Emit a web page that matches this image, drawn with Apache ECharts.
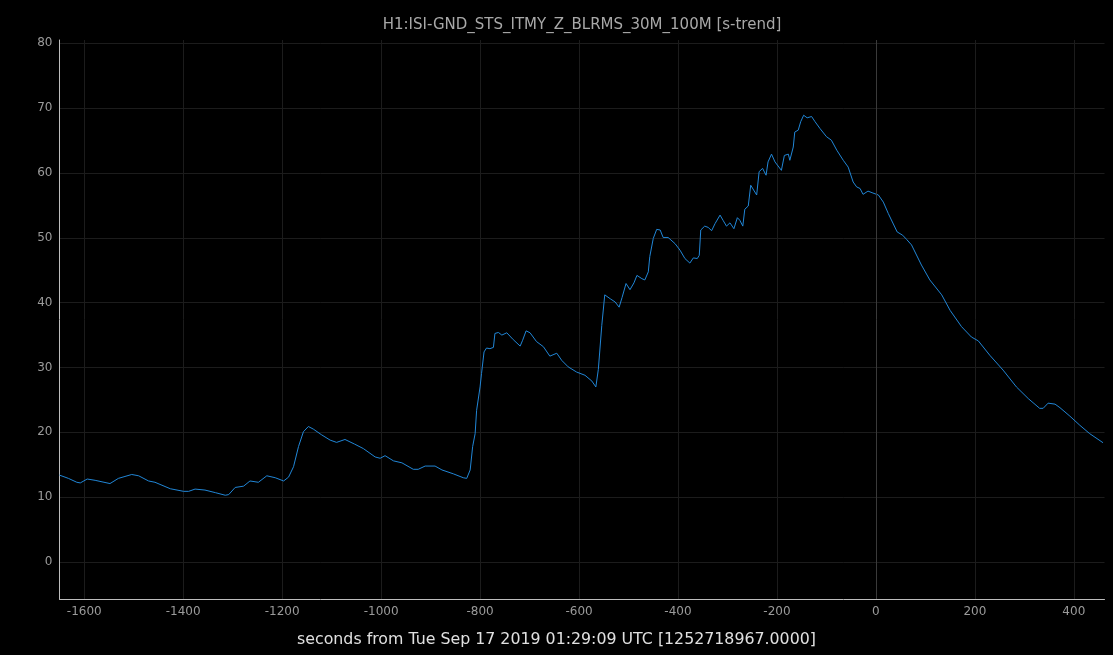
<!DOCTYPE html>
<html>
<head>
<meta charset="utf-8">
<script src="https://cdn.jsdelivr.net/npm/echarts@6/dist/echarts.min.js"></script>
<style>
html,body{margin:0;padding:0;background:#000;}
#chart{width:1113px;height:655px;}
</style>
</head>
<body>
<div id="chart"></div>
<script>
const titleText = "H1:ISI-GND_STS_ITMY_Z_BLRMS_30M_100M [s-trend]";
const xAxisLabel = "seconds from Tue Sep 17 2019 01:29:09 UTC [1252718967.0000]";

const times = [
  -1650,-1632,-1615,-1608,-1594,-1578,-1548,-1531,-1504,-1490,-1470,-1457,-1426,-1399,-1389,-1376,-1356,-1335,-1315,-1308,
  -1295,-1278,-1265,-1248,-1231,-1214,-1197,-1187,-1177,-1167,-1157,-1147,-1137,-1120,-1103,-1090,-1073,-1054,-1036,-1012,
  -1002,-992,-975,-958,-935,-925,-911,-891,-877,-854,-834,-827,-820,-815,-810,-807,-800,-797,-792,-787,
  -780,-773,-770,-763,-756,-746,-733,-719,-714,-707,-699,-686,-672,-659,-645,-635,-622,-605,-588,-574,
  -566,-561,-554,-548,-537,-527,-519,-513,-505,-497,-489,-483,-473,-467,-460,-457,-450,-443,-436,-430,
  -420,-406,-396,-386,-376,-369,-361,-357,-354,-346,-339,-332,-325,-315,-309,-302,-295,-287,-280,-275,
  -269,-265,-258,-253,-241,-236,-229,-222,-218,-211,-204,-191,-185,-177,-174,-167,-164,-157,-152,-146,
  -139,-130,-123,-113,-100,-90,-79,-66,-56,-46,-39,-32,-26,-16,-6,5,15,25,43,54,
  62,72,92,109,133,150,173,193,207,230,257,284,308,331,338,348,362,372,392,412,
  432,459
];
const values = [
  13.4,12.9,12.3,12.2,12.8,12.6,12.1,12.9,13.5,13.3,12.5,12.3,11.3,10.9,10.9,11.25,11.1,10.7,10.3,10.4,
  11.5,11.7,12.5,12.3,13.3,13.0,12.5,13.1,14.7,17.8,20.1,20.9,20.5,19.6,18.8,18.45,18.9,18.2,17.5,16.2,
  16.0,16.4,15.6,15.3,14.3,14.3,14.8,14.8,14.2,13.6,13.0,12.9,14.2,17.8,19.8,23.4,27.0,29.1,32.4,33.0,
  32.9,33.1,35.25,35.4,35.0,35.35,34.3,33.3,34.2,35.65,35.35,34.0,33.2,31.75,32.2,31.1,30.1,29.3,28.8,27.9,
  27.0,29.7,36.5,41.2,40.6,40.1,39.3,40.8,42.95,42.0,43.05,44.2,43.7,43.5,44.75,47.1,49.9,51.3,51.2,50.05,
  50.05,49.1,48.1,46.8,46.1,46.9,46.8,47.3,51.2,51.8,51.6,51.1,52.2,53.5,52.7,51.8,52.3,51.4,53.1,52.7,
  51.8,54.4,54.9,58.1,56.6,60.2,60.7,59.65,61.7,62.9,61.7,60.4,62.7,62.9,61.95,64.0,66.3,66.6,67.9,68.9,
  68.5,68.7,67.9,66.85,65.6,65.05,63.5,61.95,60.9,58.6,57.85,57.6,56.7,57.2,56.9,56.6,55.5,53.75,50.9,50.4,
  49.75,48.9,45.8,43.5,41.2,38.8,36.3,34.7,34.1,31.9,29.6,27.0,25.2,23.7,23.7,24.5,24.35,23.8,22.5,21.1,
  19.8,18.4
];

const seriesData = times.map((t, i) => [t, values[i]]);

const chart = echarts.init(document.getElementById('chart'), null, {renderer: 'canvas'});
chart.setOption({
  backgroundColor: '#000',
  animation: false,
  title: [{
    text: titleText,
    left: 577,
    textAlign: 'center',
    top: 13,
    textStyle: {color: '#a8a8a8', fontFamily: 'DejaVu Sans', fontSize: 15, fontWeight: 'normal'}
  }, {
    text: xAxisLabel,
    left: 551.5,
    textAlign: 'center',
    top: 627,
    textStyle: {color: '#e0e0e0', fontFamily: 'DejaVu Sans', fontSize: 15.8, fontWeight: 'normal'}
  }],
  grid: {left: 59.5, right: 8.5, top: 40, bottom: 56, containLabel: false},
  xAxis: {
    type: 'value',
    min: -1650, max: 462,
    splitNumber: 10,
    axisLine: {show: true, onZero: false, lineStyle: {color: '#bdbdbd', width: 1}},
    axisTick: {show: false},
    axisLabel: {color: '#9a9a9a', fontFamily: 'DejaVu Sans', fontSize: 12, margin: 7, showMinLabel: false, showMaxLabel: false,
      formatter: v => String(v)},
    splitLine: {show: true, showMinLine: false, showMaxLine: false, lineStyle: {color: '#1c1c1c', width: 1}}
  },
  yAxis: {
    type: 'value',
    min: -5.7, max: 80.5,
    splitNumber: 9,
    axisLine: {show: true, onZero: false, lineStyle: {color: '#bdbdbd', width: 1}},
    axisTick: {show: false},
    axisLabel: {color: '#9a9a9a', fontFamily: 'DejaVu Sans', fontSize: 12, margin: 7, showMinLabel: false, showMaxLabel: false,
      formatter: v => String(v)},
    splitLine: {show: true, showMinLine: false, showMaxLine: false, lineStyle: {color: '#1c1c1c', width: 1}}
  },
  series: [{
    type: 'line',
    data: seriesData,
    showSymbol: false,
    lineStyle: {color: '#2186d6', width: 1},
    itemStyle: {color: '#2186d6'},
    markLine: {
      silent: true,
      symbol: 'none',
      label: {show: false},
      lineStyle: {color: '#3a3a3a', type: 'solid', width: 1},
      data: [{xAxis: 0}]
    }
  }]
});
</script>
</body>
</html>
